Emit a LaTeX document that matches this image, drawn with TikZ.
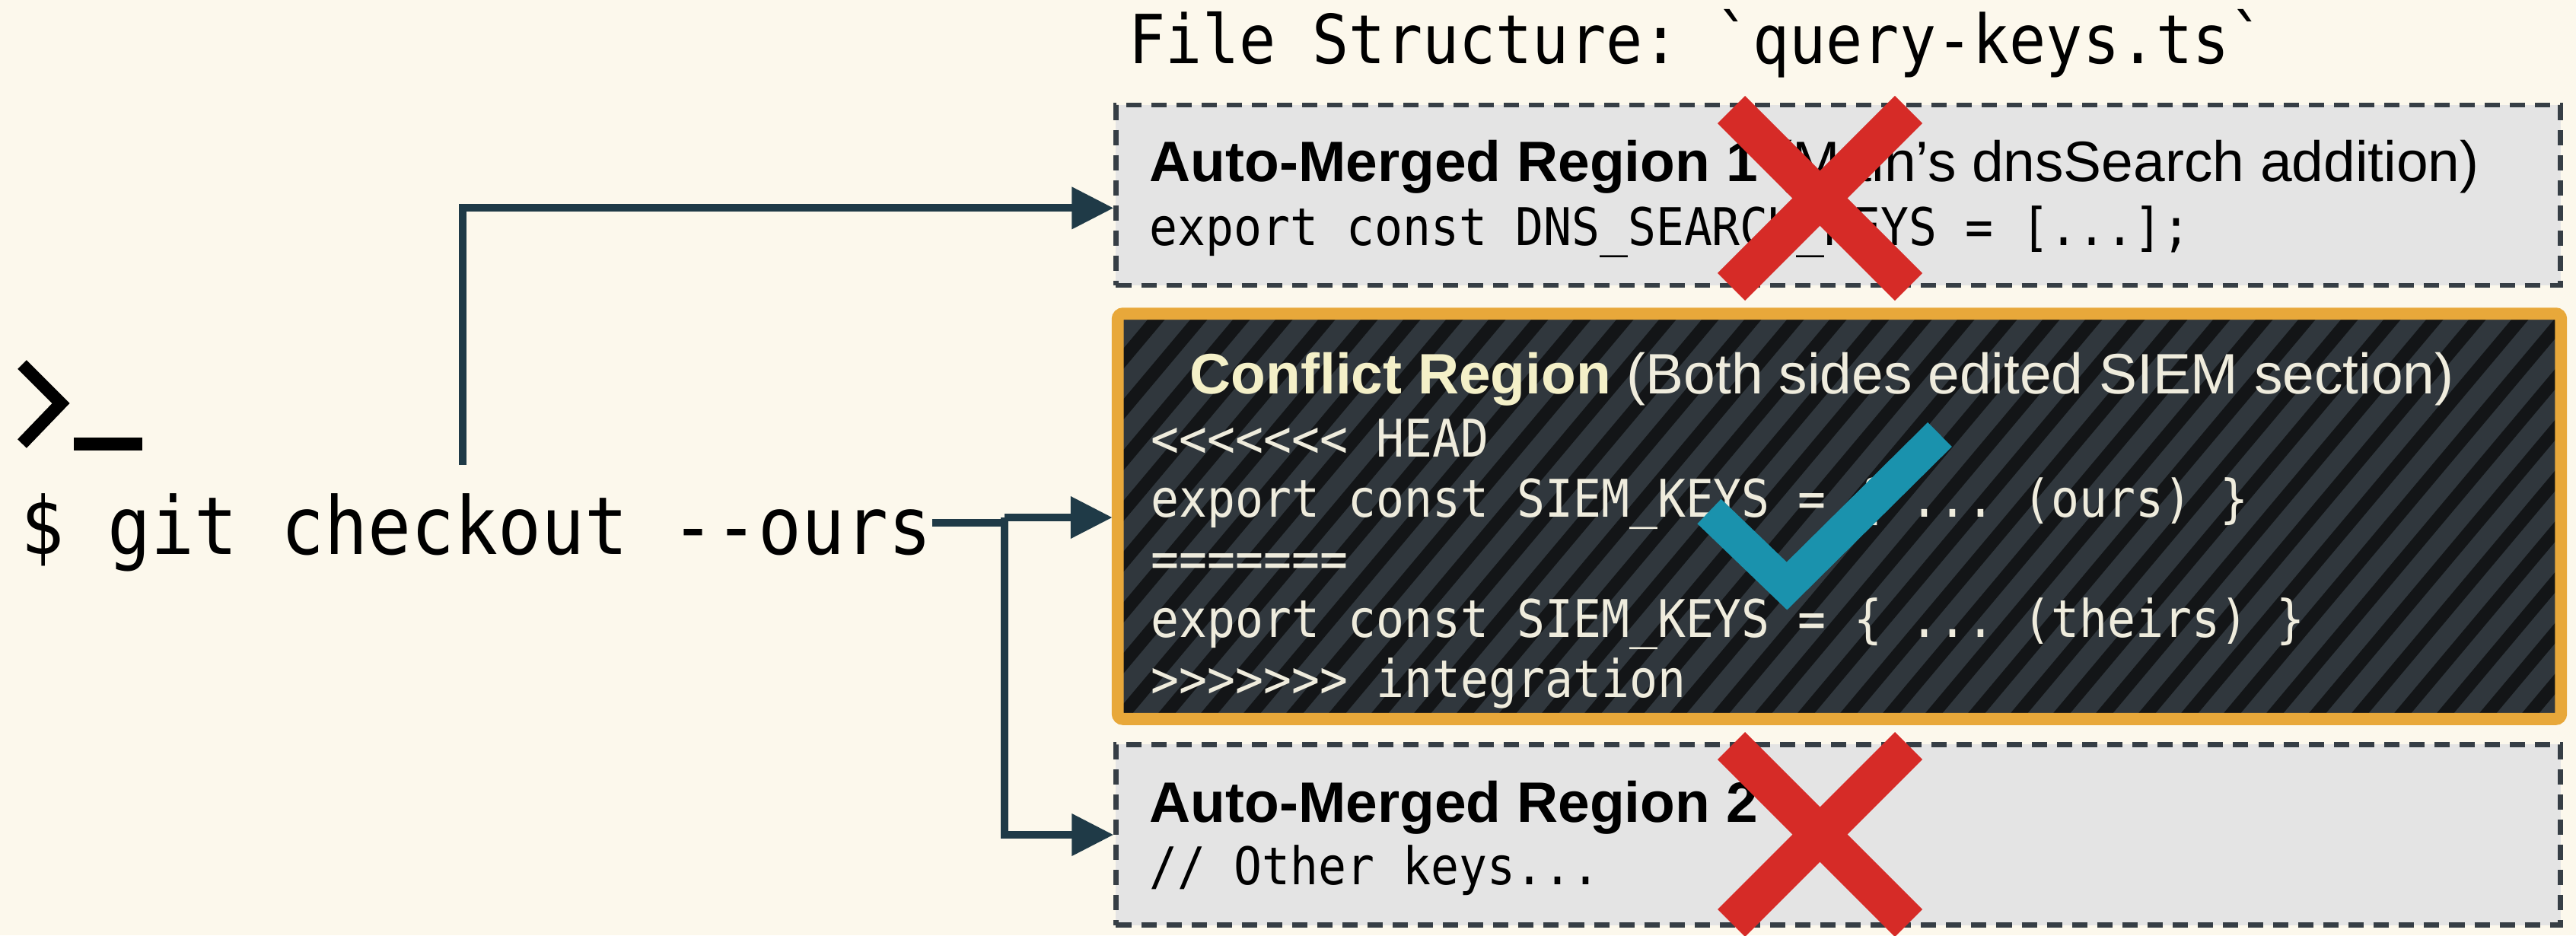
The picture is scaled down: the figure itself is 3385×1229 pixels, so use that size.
\documentclass[tikz,border=0pt]{standalone}
\usepackage{fontspec}
\setmainfont{Liberation Sans}
\setmonofont[FakeStretch=0.9]{DejaVu Sans Mono}
\usetikzlibrary{arrows.meta,calc}
\definecolor{bg}{HTML}{FCF8EC}
\definecolor{boxgray}{HTML}{E4E4E4}
\definecolor{dashcol}{HTML}{363E45}
\definecolor{conncol}{HTML}{1F3A47}
\definecolor{orangeb}{HTML}{E8A83A}
\definecolor{stripebase}{HTML}{30373D}
\definecolor{stripedark}{HTML}{131517}
\definecolor{creamhead}{HTML}{F4F0C8}
\definecolor{creamtext}{HTML}{EFECDD}
\definecolor{xred}{HTML}{D62B27}
\definecolor{tealc}{HTML}{1A92AD}
\tikzset{
  autobox/.style={draw=dashcol, fill=boxgray, line width=1.8pt, dash pattern=on 5.7pt off 3.7pt,
    minimum width=18.97cm, minimum height=2.37cm, inner sep=0pt},
  conflictfill/.style={fill=stripebase, minimum width=18.94cm, minimum height=5.31cm, inner sep=0pt},
  conflictborder/.style={draw=orangeb, line width=4.5pt, rounded corners=2pt},
  stripe/.style={draw=stripedark, line width=4.9pt},
  conn/.style={draw=conncol, line width=2.85pt},
  connarrow/.style={conn, -{Triangle[length=15.6pt,width=15.1pt]}},
  headtxt/.style={anchor=base west, inner sep=0pt, font=\fontsize{21.3}{25}\selectfont},
  codetxt/.style={anchor=base west, inner sep=0pt, font=\ttfamily\fontsize{19.4}{23}\selectfont},
  xbar/.style={draw=xred, line width=14.5pt},
  checkstroke/.style={draw=tealc, line width=12.8pt, line join=miter},
  promptstroke/.style={draw=black, line width=4.7pt, line join=miter},
}
\begin{document}
\begin{tikzpicture}[x=0.01cm,y=-0.01cm]
\fill[bg] (0,0) rectangle (3385,1229);
\useasboundingbox (0,0) rectangle (3385,1229);

% title
\node[anchor=base west, inner sep=0pt, font=\ttfamily\fontsize{25.3}{30}\selectfont] (title) at (1483,83) {File Structure: `query-keys.ts`};

% boxes
\node[autobox] (b1) at (2415.5,256.5) {};
\node[conflictfill] (b2) at (2417,678.5) {};
\begin{scope}
  \clip (b2.south west) rectangle (b2.north east);
  \foreach \i in {0,...,44} {
    \draw[stripe] ({1010+\i*56},960) -- ++(460,-548);
  }
\end{scope}
\draw[conflictborder] (b2.north west) rectangle (b2.south east);
\node[autobox] (b3) at (2415.5,1097) {};

% box 1 text
\node[headtxt] (h1) at (1510,238) {\textbf{Auto-Merged Region 1} (Main’s dnsSearch addition)};
\node[codetxt] (c1) at (1510,322) {export const DNS\_SEARCH\_KEYS = [...];};

% box 2 text
\node[headtxt, text=creamtext] (h2) at (1563,517) {\textcolor{creamhead}{\textbf{Conflict Region}} (Both sides edited SIEM section)};
\node[codetxt, text=creamtext] (k1) at (1512,600) {<<<<<<< HEAD};
\node[codetxt, text=creamtext] (k2) at (1512,679) {export const SIEM\_KEYS = \{ ... (ours) \}};
\node[codetxt, text=creamtext] (k3) at (1512,758) {=======};
\node[codetxt, text=creamtext] (k4) at (1512,837) {export const SIEM\_KEYS = \{ ... (theirs) \}};
\node[codetxt, text=creamtext] (k5) at (1512,916) {>>>>>>> integration};

% box 3 text
\node[headtxt] (h3) at (1510,1080) {\textbf{Auto-Merged Region 2}};
\node[codetxt] (c3) at (1510,1162) {// Other keys...};

% prompt icon
\draw[promptstroke] (29,479) -- (80,530) -- (29,583);
\fill[black] (97,575) rectangle (187,592);

% command
\node[anchor=base west, inner sep=0pt, font=\ttfamily\fontsize{29.9}{36}\selectfont] (git) at (27,728) {\$ git checkout -{}-ours};

% connectors
\coordinate (a1s) at (608,611);
\coordinate (j) at (1320,680);
\draw[connarrow] (a1s) |- ([yshift=-4.8pt]b1.west);
\draw[conn] ([yshift=3.4pt]git.east) -- ([yshift=3.4pt]git.east -| j);
\draw[connarrow, shorten >=2pt] (j) -- (b2.west |- j);
\draw[connarrow] (j) |- (b3.west);

% marks
\draw[xbar] (2275,144) -- (2508,377);
\draw[xbar] (2508,144) -- (2275,377);
\draw[xbar] (2275,980) -- (2508,1213);
\draw[xbar] (2508,980) -- (2275,1213);
\draw[checkstroke] (2246,672) -- (2348,770) -- (2549,571);
\end{tikzpicture}
\end{document}
